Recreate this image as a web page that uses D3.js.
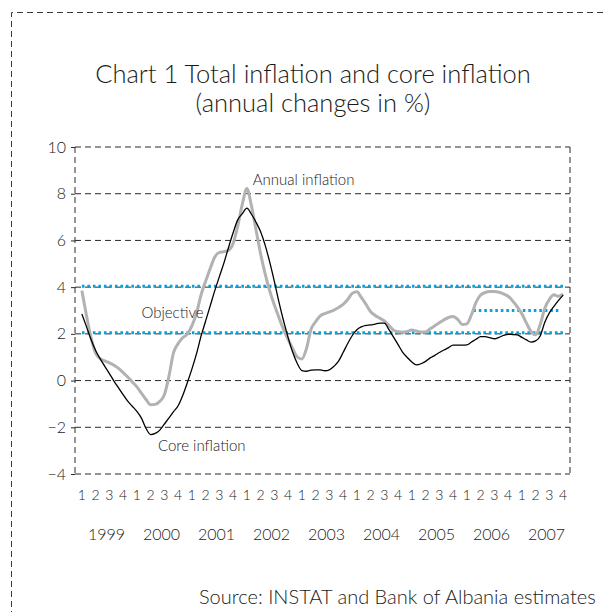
<!DOCTYPE html>
<html>
<head>
<meta charset="utf-8">
<script src="https://cdn.jsdelivr.net/npm/d3@7"></script>
<style>
  body { margin: 0; background: #fff; }
  svg { display: block; }
  text { font-family: Lato, "Open Sans", sans-serif; font-weight: 300; fill: #1a1a1a; }
</style>
</head>
<body>
<svg id="chart" width="606" height="612"></svg>
<script>
// Years shown under the quarter labels
const years = ["1999", "2000", "2001", "2002", "2003", "2004", "2005", "2006", "2007"];
const quarterNames = ["1", "2", "3", "4"];
const yTicks = [-4, -2, 0, 2, 4, 6, 8, 10];

// Monthly annual inflation, Jan 1999 onwards (%)
const annualInflation = [
  3.85, 2.79, 1.84, 1.17, 0.94, 0.84, 0.76, 0.66, 0.52, 0.34, 0.15, -0.06,
  -0.27, -0.54, -0.81, -1.04, -1.02, -0.89, -0.61, 0.19, 1.20, 1.58, 1.83, 1.99,
  2.34, 2.88, 3.67, 4.25, 4.80, 5.29, 5.49, 5.52, 5.58, 5.87, 6.61, 7.55,
  8.22, 7.48, 6.45, 5.42, 4.56, 3.83, 3.24, 2.70, 2.19, 1.76, 1.36, 1.01,
  0.92, 1.37, 2.20, 2.52, 2.77, 2.87, 2.94, 3.02, 3.13, 3.26, 3.47, 3.74,
  3.80, 3.55, 3.26, 2.95, 2.79, 2.67, 2.55, 2.36, 2.16, 2.09, 2.07, 2.10,
  2.17, 2.12, 2.08, 2.08, 2.22, 2.35, 2.48, 2.60, 2.70, 2.74, 2.62, 2.40,
  2.43, 2.82, 3.35, 3.66, 3.77, 3.81, 3.81, 3.78, 3.71, 3.61, 3.41, 3.16,
  2.86, 2.46, 2.10, 1.96, 2.40, 3.10, 3.48, 3.67, 3.61, 3.71
];

// Monthly core inflation, Jan 1999 onwards (%)
const coreInflation = [
  2.85, 2.31, 1.76, 1.29, 0.93, 0.61, 0.30, -0.02, -0.31, -0.60, -0.88, -1.10,
  -1.32, -1.61, -2.05, -2.31, -2.26, -2.12, -1.86, -1.60, -1.33, -1.08, -0.64, -0.09,
  0.49, 1.14, 1.90, 2.55, 3.20, 3.85, 4.45, 5.04, 5.70, 6.33, 6.88, 7.15,
  7.38, 7.12, 6.78, 6.37, 5.79, 5.06, 4.24, 3.36, 2.56, 1.84, 1.21, 0.73,
  0.43, 0.40, 0.45, 0.46, 0.46, 0.42, 0.46, 0.61, 0.83, 1.20, 1.59, 1.93,
  2.18, 2.30, 2.36, 2.38, 2.42, 2.46, 2.46, 2.18, 1.86, 1.54, 1.21, 0.99,
  0.79, 0.67, 0.72, 0.82, 0.97, 1.08, 1.20, 1.31, 1.41, 1.52, 1.52, 1.52,
  1.53, 1.65, 1.77, 1.88, 1.88, 1.84, 1.79, 1.85, 1.93, 1.98, 1.97, 1.96,
  1.85, 1.74, 1.65, 1.70, 1.91, 2.50, 2.90, 3.18, 3.43, 3.66
];

// Inflation objective: 2-4 % band for the whole period, 3 % point target later on
const objectiveBand = [2, 4];
const pointTarget = 3;
const pointTargetFrom = 85.4; // month index

const svg = d3.select("#chart");
const W = 606, H = 612;
const plot = { left: 75, right: 570, top: 147, bottom: 474 };

// Outer dashed frame (only top and left edges fall inside the page)
svg.append("path")
  .attr("d", `M11.5,${H + 5} V12.5 H${W + 5}`)
  .attr("fill", "none")
  .attr("stroke", "#3a3a3a")
  .attr("stroke-width", 1)
  .attr("stroke-dasharray", "6 4");

// Title
const title = svg.append("text")
  .attr("text-anchor", "middle")
  .style("font-size", "25.5px");
title.append("tspan").attr("x", 313).attr("y", 83).text("Chart 1 Total inflation and core inflation");
title.append("tspan").attr("x", 313).attr("y", 112).text("(annual changes in %)");

// Scales
const quarterKeys = years.flatMap(y => quarterNames.map(q => y + "-" + q));
const xQ = d3.scalePoint().domain(quarterKeys).range([plot.left, plot.right]).padding(0.5);
const xM = d3.scaleLinear()
  .domain([0, 3 * (quarterKeys.length - 1)])
  .range([xQ(quarterKeys[0]), xQ(quarterKeys[quarterKeys.length - 1])]);
const y = d3.scaleLinear().domain([-4, 10]).range([plot.bottom, plot.top]);

// Horizontal dashed gridlines
svg.append("g")
  .selectAll("line")
  .data(yTicks)
  .join("line")
  .attr("x1", plot.left).attr("x2", plot.right)
  .attr("y1", d => y(d)).attr("y2", d => y(d))
  .attr("stroke", "#2a2a2a")
  .attr("stroke-width", 1)
  .attr("stroke-dasharray", "6 4");

// Left and right dashed borders
svg.append("g")
  .selectAll("line")
  .data([plot.left, plot.right])
  .join("line")
  .attr("x1", d => d).attr("x2", d => d)
  .attr("y1", plot.top).attr("y2", plot.bottom)
  .attr("stroke", "#2a2a2a")
  .attr("stroke-width", 1)
  .attr("stroke-dasharray", "6 4");

// Y axis: ticks and labels
const yAxis = d3.axisLeft(y).tickValues(yTicks).tickSize(4).tickPadding(5).tickFormat(d3.format("d"));
const gy = svg.append("g").attr("transform", `translate(${plot.left},0)`).call(yAxis);
gy.select(".domain").remove();
gy.selectAll(".tick line").attr("stroke", "#2a2a2a");
gy.selectAll(".tick text")
  .style("font-size", "16px")
  .style("font-family", "Lato, 'Open Sans', sans-serif")
  .style("font-weight", 300)
  .attr("fill", "#1a1a1a");

// Quarter labels
svg.append("g")
  .selectAll("text")
  .data(quarterKeys)
  .join("text")
  .attr("x", d => xQ(d))
  .attr("y", 500)
  .attr("text-anchor", "middle")
  .style("font-size", "14px")
  .text(d => d.split("-")[1]);

// Year labels, centred under each year's quarters
svg.append("g")
  .selectAll("text")
  .data(years)
  .join("text")
  .attr("x", d => (xQ(d + "-1") + xQ(d + "-4")) / 2 + 4)
  .attr("y", 540)
  .attr("text-anchor", "middle")
  .style("font-size", "16px")
  .text(d => d);

// Objective lines (blue dotted)
const objective = svg.append("g")
  .attr("stroke", "#00a3e0")
  .attr("stroke-width", 3)
  .attr("stroke-dasharray", "2.6 2.9");
objective.selectAll("line.band")
  .data(objectiveBand)
  .join("line")
  .attr("class", "band")
  .attr("x1", xM(0)).attr("x2", xM(3 * (quarterKeys.length - 1)))
  .attr("y1", d => y(d) - 1).attr("y2", d => y(d) - 1);
objective.append("line")
  .attr("x1", xM(pointTargetFrom)).attr("x2", xM(3 * (quarterKeys.length - 1)) - 3)
  .attr("y1", y(pointTarget)).attr("y2", y(pointTarget));

// Series lines
const line = d3.line()
  .x((d, i) => xM(i))
  .y(d => y(d))
  .curve(d3.curveMonotoneX);

svg.append("path")
  .datum(annualInflation)
  .attr("d", line)
  .attr("fill", "none")
  .attr("stroke", "#b2b2b2")
  .attr("stroke-width", 3)
  .attr("stroke-linejoin", "round");

svg.append("path")
  .datum(coreInflation)
  .attr("d", line)
  .attr("fill", "none")
  .attr("stroke", "#000")
  .attr("stroke-width", 1.3)
  .attr("stroke-linejoin", "round");

// Series annotations
const notes = [
  { text: "Annual inflation", month: 37.3, value: 8.38 },
  { text: "Objective", month: 13, value: 2.7 },
  { text: "Core inflation", month: 16.6, value: -3.0 }
];
svg.append("g")
  .selectAll("text")
  .data(notes)
  .join("text")
  .attr("x", d => xM(d.month))
  .attr("y", d => y(d.value))
  .style("font-size", "15px")
  .text(d => d.text);

// Source note
svg.append("text")
  .attr("x", 199)
  .attr("y", 604)
  .style("font-size", "20px")
  .text("Source: INSTAT and Bank of Albania estimates");
</script>
</body>
</html>
